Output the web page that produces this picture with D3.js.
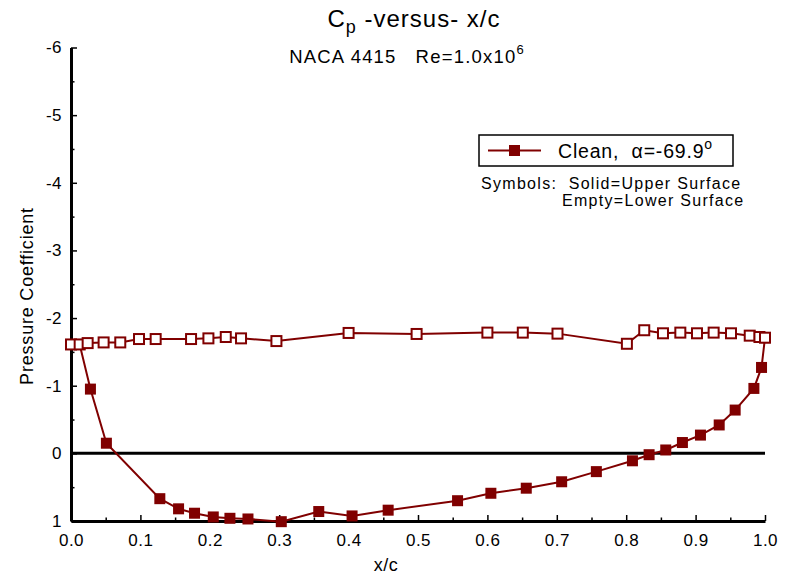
<!DOCTYPE html>
<html>
<head>
<style>
body { margin: 0; background: #fff; }
svg { font-family: "Liberation Sans", Arial, sans-serif; }
svg text { white-space: pre; }
.axis .domain { stroke: #000; stroke-width: 3; }
.axis .tick line { stroke: #000; stroke-width: 1.5; }
.axis text { font-size: 17px; fill: #000; letter-spacing: 0.5px; }
</style>
</head>
<body>
<svg width="792" height="576"></svg>
<script src="https://d3js.org/d3.v7.min.js"></script>
<script>
// upper surface (solid symbols)
var upperX = [0.0125, 0.028, 0.051, 0.128, 0.155, 0.178, 0.205, 0.229, 0.255, 0.303, 0.357, 0.405, 0.457, 0.557, 0.605, 0.656, 0.707, 0.757, 0.809, 0.833, 0.857, 0.881, 0.907, 0.934, 0.957, 0.984, 0.995, 1.0];
var upperCp = [-1.61, -0.95, -0.15, 0.67, 0.82, 0.885, 0.94, 0.96, 0.97, 1.01, 0.86, 0.925, 0.84, 0.70, 0.59, 0.515, 0.42, 0.27, 0.11, 0.02, -0.05, -0.16, -0.27, -0.42, -0.64, -0.96, -1.27, -1.71];
// lower surface (empty symbols)
var lowerX = [0.0, 0.0125, 0.024, 0.047, 0.071, 0.098, 0.122, 0.173, 0.198, 0.223, 0.245, 0.296, 0.400, 0.498, 0.600, 0.651, 0.701, 0.801, 0.826, 0.853, 0.878, 0.902, 0.926, 0.951, 0.978, 0.992, 1.0];
var lowerCp = [-1.61, -1.61, -1.63, -1.64, -1.64, -1.69, -1.69, -1.69, -1.70, -1.72, -1.70, -1.66, -1.78, -1.765, -1.785, -1.785, -1.77, -1.62, -1.82, -1.775, -1.785, -1.775, -1.785, -1.775, -1.74, -1.72, -1.71];
var xTicks = [0, 0.1, 0.2, 0.3, 0.4, 0.5, 0.6, 0.7, 0.8, 0.9, 1.0];
var yTicks = [-6, -5, -4, -3, -2, -1, 0, 1];

var color = "#800000";
var svg = d3.select("svg");

var x = d3.scaleLinear().domain([0, 1]).range([71, 765]);
var y = d3.scaleLinear().domain([-6, 1]).range([47.5, 521]);

// minor ticks
var xMinor = d3.range(0.05, 1, 0.1);
var yMinor = d3.range(-5.5, 1, 1);

svg.append("g")
    .attr("class", "axis")
    .attr("transform", "translate(0," + y(1) + ")")
    .call(d3.axisBottom(x).tickValues(xMinor).tickSize(-3.5).tickFormat(""))
    .select(".domain").remove();
svg.append("g")
    .attr("class", "axis")
    .attr("transform", "translate(" + x(0) + ",0)")
    .call(d3.axisLeft(y).tickValues(yMinor).tickSize(-3.5).tickFormat(""))
    .select(".domain").remove();

svg.append("g")
    .attr("class", "axis")
    .attr("transform", "translate(0," + y(1) + ")")
    .call(d3.axisBottom(x).tickValues(xTicks).tickSize(-6).tickSizeOuter(0).tickPadding(9)
      .tickFormat(function(d) { return d.toFixed(1); }))
    .selectAll("text").attr("dy", "0.95em");

svg.append("g")
    .attr("class", "axis")
    .attr("transform", "translate(" + x(0) + ",0)")
    .call(d3.axisLeft(y).tickValues(yTicks).tickSize(-6).tickSizeOuter(0).tickPadding(9)
      .tickFormat(function(d) { return String(d); }));

// zero line
svg.append("line")
    .attr("x1", x(0)).attr("x2", x(1))
    .attr("y1", y(0)).attr("y2", y(0))
    .attr("stroke", "#000").attr("stroke-width", 3);

var line = d3.line()
    .x(function(d) { return x(d[0]); })
    .y(function(d) { return y(d[1]); });

var upper = upperX.map(function(v, i) { return [v, upperCp[i]]; });
var lower = lowerX.map(function(v, i) { return [v, lowerCp[i]]; });

var s = 11;
svg.append("path").attr("d", line(upper))
    .attr("fill", "none").attr("stroke", color).attr("stroke-width", 2);
svg.append("g").selectAll("rect").data(upper).enter().append("rect")
    .attr("x", function(d) { return x(d[0]) - s / 2; })
    .attr("y", function(d) { return y(d[1]) - s / 2; })
    .attr("width", s).attr("height", s)
    .attr("fill", color);

svg.append("path").attr("d", line(lower))
    .attr("fill", "none").attr("stroke", color).attr("stroke-width", 2);
var so = 10;
svg.append("g").selectAll("rect").data(lower).enter().append("rect")
    .attr("x", function(d) { return x(d[0]) - so / 2; })
    .attr("y", function(d) { return y(d[1]) - so / 2; })
    .attr("width", so).attr("height", so)
    .attr("fill", "#fff").attr("stroke", color).attr("stroke-width", 2);

// titles
var t = svg.append("text").attr("x", 414).attr("y", 27)
    .attr("text-anchor", "middle").attr("font-size", 24).attr("letter-spacing", 1);
t.append("tspan").text("C");
t.append("tspan").attr("font-size", 18).attr("dy", 6).text("p");
t.append("tspan").attr("dy", -6).text(" -versus- x/c");

var st = svg.append("text").attr("x", 407).attr("y", 63)
    .attr("text-anchor", "middle").attr("font-size", 18.5).attr("letter-spacing", 1.2);
st.append("tspan").text("NACA 4415   Re=1.0x10");
st.append("tspan").attr("font-size", 13).attr("dy", -9).text("6");

// axis titles
svg.append("text").attr("x", 386).attr("y", 571)
    .attr("text-anchor", "middle").attr("font-size", 18).attr("letter-spacing", 0.5).text("x/c");
svg.append("text")
    .attr("transform", "translate(33,296) rotate(-90)")
    .attr("text-anchor", "middle").attr("font-size", 18).attr("letter-spacing", 0.8)
    .text("Pressure Coefficient");

// legend
svg.append("rect").attr("x", 479).attr("y", 135).attr("width", 254).attr("height", 31)
    .attr("fill", "#fff").attr("stroke", "#000").attr("stroke-width", 1.5);
svg.append("line").attr("x1", 488).attr("x2", 541).attr("y1", 150.5).attr("y2", 150.5)
    .attr("stroke", color).attr("stroke-width", 2);
svg.append("rect").attr("x", 514.5 - s / 2).attr("y", 150.5 - s / 2)
    .attr("width", s).attr("height", s).attr("fill", color);
var lt = svg.append("text").attr("x", 558).attr("y", 157.5).attr("font-size", 19.5).attr("letter-spacing", 0.8);
lt.append("tspan").text("Clean,  \u03b1=-69.9");
lt.append("tspan").attr("font-size", 14).attr("dy", -9).text("o");

svg.append("text").attr("x", 481).attr("y", 188.5).attr("font-size", 16).attr("letter-spacing", 1.3)
    .text("Symbols:  Solid=Upper Surface");
svg.append("text").attr("x", 562).attr("y", 206).attr("font-size", 16).attr("letter-spacing", 1.3)
    .text("Empty=Lower Surface");
</script>
</body>
</html>
